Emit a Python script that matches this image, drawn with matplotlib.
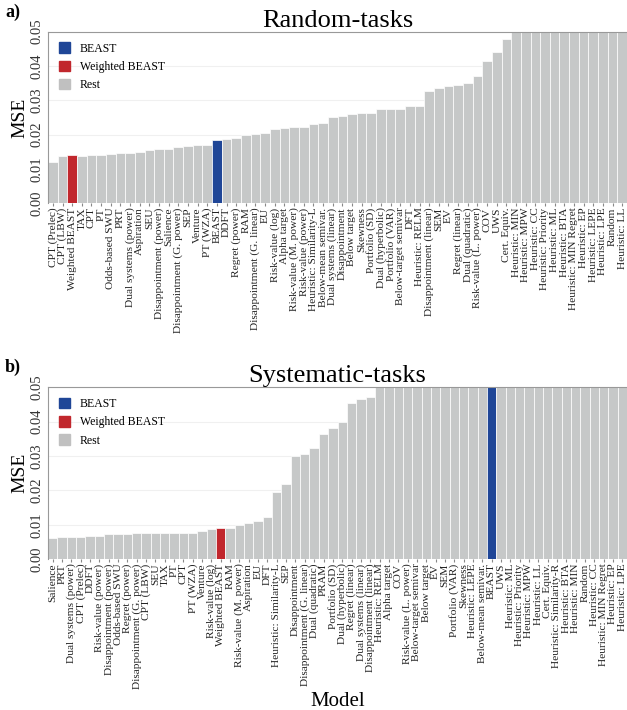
import matplotlib
matplotlib.use("Agg")
import matplotlib.pyplot as plt
from matplotlib.patches import Patch

plt.rcParams['font.family'] = ['Liberation Serif', 'DejaVu Serif']

# a) Random-tasks
random_models = ["CPT (Prelec)", "CPT (LBW)", "Weighted BEAST", "TAX", "CPT", "PT",
                 "Odds-based SWU", "PRT", "Dual systems (power)", "Aspiration", "SEU",
                 "Disappointment (power)", "Salience", "Disappointment (G. power)", "SEP",
                 "Venture", "PT (WZA)", "BEAST", "DDFT", "Regret (power)", "RAM",
                 "Disappointment (G. linear)", "EU", "Risk-value (log)", "Alpha target",
                 "Risk-value (M. power)", "Risk-value (power)", "Heuristic: Similarity-L",
                 "Below-mean semivar.", "Dual systems (linear)", "Disappointment",
                 "Below target", "Skewness", "Portfolio (SD)", "Dual (hyperbolic)",
                 "Portfolio (VAR)", "Below-target semivar", "DFT", "Heuristic: RELM",
                 "Disappointment (linear)", "SEM", "EV", "Regret (linear)",
                 "Dual (quadratic)", "Risk-value (L. power)", "COV", "UWS", "Cert. Equiv.",
                 "Heuristic: MIN", "Heuristic: MPW", "Heuristic: CC", "Heuristic: Priority",
                 "Heuristic: ML", "Heuristic: BTA", "Heuristic: MIN Regret", "Heuristic: EP",
                 "Heuristic: LEPE", "Heuristic: LPE", "Random", "Heuristic: LL"]
random_mse = [0.0119, 0.0138, 0.0140, 0.0138, 0.0142, 0.0142, 0.0145, 0.0147, 0.0147,
              0.0150, 0.0155, 0.0157, 0.0158, 0.0164, 0.0167, 0.0169, 0.0169, 0.0185,
              0.0186, 0.0191, 0.0199, 0.0201, 0.0205, 0.0215, 0.0220, 0.0222, 0.0223,
              0.0232, 0.0235, 0.0251, 0.0254, 0.0259, 0.0264, 0.0264, 0.0274, 0.0274,
              0.0276, 0.0282, 0.0284, 0.0326, 0.0337, 0.0341, 0.0346, 0.0349, 0.0372,
              0.0415, 0.0442, 0.0480, 0.05, 0.05, 0.05, 0.05, 0.05, 0.05, 0.05, 0.05,
              0.05, 0.05, 0.05, 0.05]

# b) Systematic-tasks
syst_models = ["Salience", "PRT", "Dual systems (power)", "CPT (Prelec)", "DDFT",
               "Risk-value (power)", "Disappointment (power)", "Odds-based SWU",
               "Regret (power)", "Disappointment (G. power)", "CPT (LBW)", "SEU", "TAX",
               "PT", "CPT", "PT (WZA)", "Venture", "Risk-value (log)", "Weighted BEAST",
               "RAM", "Risk-value (M. power)", "Aspiration", "EU", "DFT",
               "Heuristic: Similarity-L", "SEP", "Disappointment",
               "Disappointment (G. linear)", "Dual (quadratic)", "PRAM", "Portfolio (SD)",
               "Dual (hyperbolic)", "Regret (linear)", "Dual systems (linear)",
               "Disappointment (linear)", "Heuristic: RELM", "Alpha target", "COV",
               "Risk-value (L. power)", "Below-target semivar", "Below target", "EV", "SEM",
               "Portfolio (VAR)", "Skewness", "Heuristic: LEPE", "Below-mean semivar.",
               "BEAST", "UWS", "Heuristic: ML", "Heuristic: Priority", "Heuristic: MPW",
               "Heuristic: LL", "Cert. Equiv.", "Heuristic: Similarity-R", "Heuristic: BTA",
               "Heuristic: MIN", "Random", "Heuristic: CC", "Heuristic: MIN Regret",
               "Heuristic: EP", "Heuristic: LPE"]
syst_mse = [0.0063, 0.0064, 0.0064, 0.0065, 0.0067, 0.0069, 0.0073, 0.0074, 0.0074,
            0.0075, 0.0075, 0.0075, 0.0076, 0.0077, 0.0077, 0.0077, 0.0083, 0.0088,
            0.0090, 0.0092, 0.0100, 0.0105, 0.0111, 0.0124, 0.0195, 0.0220, 0.0301,
            0.0306, 0.0322, 0.0364, 0.0381, 0.0400, 0.0453, 0.0467, 0.0473, 0.05, 0.05,
            0.05, 0.05, 0.05, 0.05, 0.05, 0.05, 0.05, 0.05, 0.05, 0.05, 0.05, 0.05,
            0.05, 0.05, 0.05, 0.05, 0.05, 0.05, 0.05, 0.05, 0.05, 0.05, 0.05, 0.05, 0.05]

col_beast = "#1f4697"
col_wbeast = "#c1272d"
col_rest = "#c6c8c8"


def draw_panel(ax, models, mse, title):
    colors = []
    for m in models:
        if m == "BEAST":
            colors.append(col_beast)
        elif m == "Weighted BEAST":
            colors.append(col_wbeast)
        else:
            colors.append(col_rest)
    x = range(len(models))
    ax.bar(x, mse, width=1.0, color=colors, edgecolor="white", linewidth=0.5, zorder=2)
    ax.set_xlim(-0.5, len(models) - 0.5)
    ax.set_ylim(0, 0.05)
    ax.set_yticks([0.0, 0.01, 0.02, 0.03, 0.04, 0.05])
    ax.set_yticklabels(["0.00", "0.01", "0.02", "0.03", "0.04", "0.05"],
                       rotation=90, va="center", fontsize=10.5, color="#333333")
    ax.set_xticks(list(x))
    ax.set_xticklabels(models, rotation=90, fontsize=8.2, color="#222222")
    ax.tick_params(axis="x", length=2, pad=1, color="#888888")
    ax.tick_params(axis="y", length=0, pad=3)
    ax.grid(axis="y", color="#f0f0f0", linewidth=0.8, zorder=0)
    ax.set_axisbelow(True)
    for s in ["right", "bottom"]:
        ax.spines[s].set_visible(False)
    ax.spines["top"].set_color("#999999")
    ax.spines["left"].set_color("#999999")
    ax.spines["top"].set_linewidth(0.8)
    ax.spines["left"].set_linewidth(0.8)
    ax.set_title(title, fontsize=19, pad=1)
    ax.set_ylabel("MSE", fontsize=14, labelpad=2)
    handles = [Patch(color=col_beast, label="BEAST"),
               Patch(color=col_wbeast, label="Weighted BEAST"),
               Patch(color="#c0c0c0", label="Rest")]
    ax.legend(handles=handles, loc="upper left", frameon=False, fontsize=8.5,
              handlelength=1.0, handleheight=1.0, handletextpad=0.8,
              labelspacing=0.5, borderaxespad=0.5)


fig = plt.figure(figsize=(6.27, 7.10), dpi=100)
ax1 = fig.add_axes([0.0766, 0.7137, 0.9234, 0.2417])
ax2 = fig.add_axes([0.0766, 0.2123, 0.9234, 0.2423])

draw_panel(ax1, random_models, random_mse, "Random-tasks")
draw_panel(ax2, syst_models, syst_mse, "Systematic-tasks")
ax2.set_xlabel("Model", fontsize=15, labelpad=2)

fig.text(0.008, 0.983, "a)", fontsize=13, fontweight="bold", va="center")
fig.text(0.008, 0.483, "b)", fontsize=13, fontweight="bold", va="center")

fig.savefig("out.png", dpi=100)
